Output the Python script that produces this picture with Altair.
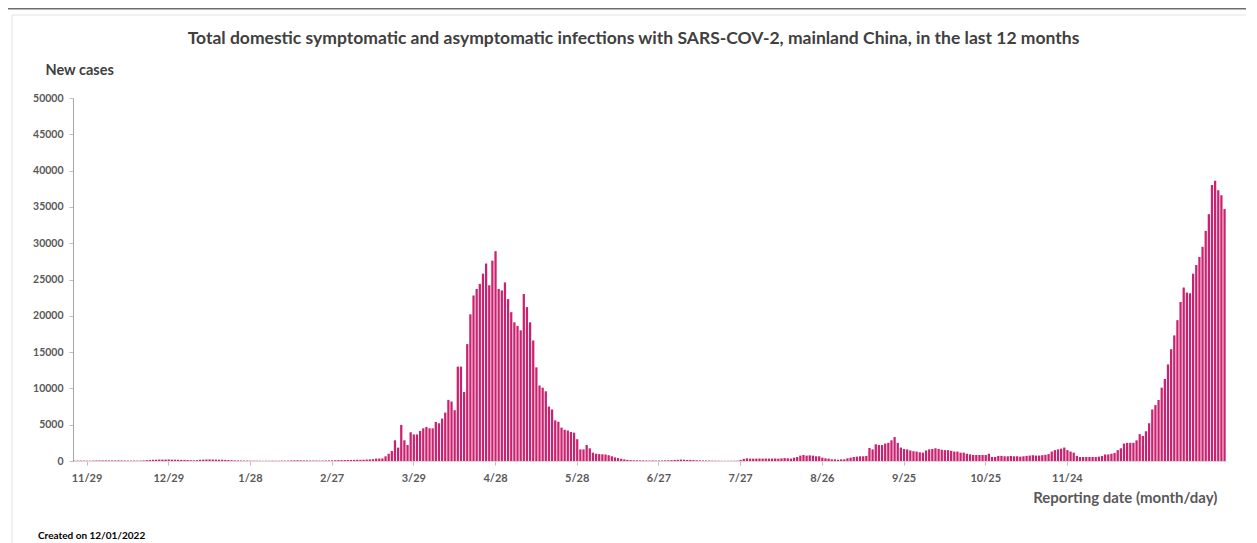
import altair as alt
import pandas as pd

# Daily new cases (domestic symptomatic + asymptomatic)
nov21 = [50, 55]
dec21 = [60, 55, 50, 45, 60, 70, 75, 80, 85, 80, 75, 70, 80, 75, 65, 60, 55, 60, 55, 60,
         80, 120, 150, 170, 180, 200, 190, 200, 210, 190, 180]
jan22 = [170, 160, 150, 130, 110, 100, 120, 160, 190, 210, 220, 200, 190, 180, 170, 150,
         130, 110, 90, 80, 70, 60, 60, 50, 50, 40, 40, 30, 40, 40, 50]
feb22 = [40, 40, 50, 50, 60, 80, 90, 100, 90, 80, 80, 70, 60, 60, 50, 60, 70, 80, 90, 100,
         120, 120, 130, 140, 150, 160, 170, 170]
mar22 = [180, 200, 220, 250, 330, 330, 350, 640, 1000, 1380, 2850, 1840, 4970, 2850, 2200,
         3960, 3660, 3660, 4140, 4500, 4690, 4500, 4500, 5380, 5200, 5840, 6670, 8420, 8190,
         7000, 13000]
apr22 = [13000, 9500, 16100, 20200, 22800, 23700, 24400, 25800, 27200, 24200, 27600, 28900,
         23700, 23500, 24600, 22300, 20500, 19100, 18600, 18000, 23000, 21200, 19100, 16600,
         12900, 10400, 10100, 9600, 7500, 7100]
may22 = [5600, 5400, 4600, 4300, 4200, 4000, 3900, 3000, 1600, 1600, 2200, 1750, 1150, 1000,
         950, 920, 900, 800, 650, 500, 400, 300, 220, 150, 120, 100, 100, 90, 80, 70, 60]
jun22 = [80, 60, 70, 80, 90, 100, 120, 150, 170, 200, 180, 150, 160, 130, 100, 90, 80, 70,
         60, 50, 40, 40, 30, 30, 30, 30, 40, 50, 150, 300]
jul22 = [370, 330, 320, 330, 340, 330, 340, 330, 330, 340, 320, 360, 400, 370, 330, 460, 550,
         740, 830, 740, 780, 740, 650, 650, 460, 370, 320, 230, 230, 180, 230]
aug22 = [230, 370, 460, 550, 600, 650, 650, 700, 1800, 1600, 2300, 2200, 2200, 2400, 2500,
         2850, 3300, 2500, 1850, 1650, 1600, 1450, 1350, 1300, 1200, 1150, 1450, 1600, 1650,
         1750, 1650]
sep22 = [1550, 1500, 1500, 1400, 1300, 1300, 1150, 1150, 1000, 920, 830, 830, 830, 830, 830,
         1000, 550, 550, 700, 700, 650, 650, 700, 650, 650, 600, 650, 700, 750, 800]
oct22 = [750, 750, 800, 850, 950, 1300, 1500, 1600, 1700, 1850, 1500, 1300, 1150, 700, 550,
         550, 550, 550, 550, 550, 600, 700, 900, 900, 1000, 1100, 1500, 1750, 2400, 2500, 2500]
nov22 = [2500, 2850, 3700, 3450, 4100, 5200, 7100, 7700, 8400, 10100, 11300, 13300, 15400,
         17300, 19400, 21900, 23900, 23200, 23100, 25800, 27000, 28100, 29500, 31700, 34000,
         38000, 38600, 37300, 36600, 34700]

# x tick labels as printed in the reference (they sit every 26 bars there)
tick_labels = ["11/29", "12/29", "1/28", "2/27", "3/29", "4/28", "5/28", "6/27", "7/27",
               "8/26", "9/25", "10/25", "11/24"]
tick_bar_index = [4, 30, 56, 82, 108, 134, 160, 186, 212, 238, 264, 290, 316]
y_ticks = [0, 5000, 10000, 15000, 20000, 25000, 30000, 35000, 40000, 45000, 50000]

title_text = ("Total domestic symptomatic and asymptomatic infections with SARS-COV-2, "
              "mainland China, in the last 12 months")
created_text = "Created on 12/01/2022"

values = (nov21 + dec21 + jan22 + feb22 + mar22 + apr22 + may22 + jun22 + jul22 + aug22
          + sep22 + oct22 + nov22)
dates = pd.date_range("2021-11-29", "2022-11-30", freq="D").strftime("%Y-%m-%d").tolist()
df = pd.DataFrame({"date": dates, "cases": values})

tick_values = [dates[i] for i in tick_bar_index]
label_expr = "[{}][indexof([{}], datum.value)]".format(
    ",".join("'%s'" % t for t in tick_labels),
    ",".join("'%s'" % v for v in tick_values),
)

FONT = "Lato"
LABEL_COLOR = "#595959"

bars = alt.Chart(df).mark_bar(color="#CB2270").encode(
    x=alt.X(
        "date:O",
        scale=alt.Scale(paddingInner=0.28, paddingOuter=0.1),
        axis=alt.Axis(
            values=tick_values,
            labelExpr=label_expr,
            labelAngle=0,
            labelFont=FONT, labelFontSize=11, labelFontWeight="bold", labelColor=LABEL_COLOR,
            labelPadding=7,
            tickSize=4, tickColor="#BFBFBF",
            domainColor="#D9D9D9", domainWidth=1,
            title="Reporting date (month/day)",
            titleFont=FONT, titleFontSize=15, titleFontWeight="bold", titleColor=LABEL_COLOR,
            titleAlign="right", titleAnchor="end", titleX=1144, titleY=36,
            titleBaseline="middle",
        ),
    ),
    y=alt.Y(
        "cases:Q",
        scale=alt.Scale(domain=[0, 50000], nice=False),
        axis=alt.Axis(
            values=y_ticks,
            format="d",
            grid=False,
            labelFont=FONT, labelFontSize=10.5, labelFontWeight="bold", labelColor=LABEL_COLOR,
            labelPadding=6,
            tickSize=4, tickColor="#BFBFBF",
            domainColor="#A6A6A6", domainWidth=1,
            title="New cases",
            titleFont=FONT, titleFontSize=14.5, titleFontWeight="bold", titleColor="#404040",
            titleAngle=0, titleAlign="left", titleBaseline="middle",
            titleX=-28, titleY=-28,
        ),
    ),
)

note = alt.Chart(pd.DataFrame({"t": [created_text]})).mark_text(
    align="left", baseline="middle", font=FONT, fontSize=10, fontWeight="bold", color="#000000"
).encode(text="t:N", x=alt.value(-35), y=alt.value(438))

# page decorations: thick grey rule at the very top and a light frame
top_rule = alt.Chart(pd.DataFrame({"k": [0]})).mark_rule(
    color="#6E6E6E", strokeWidth=3
).encode(x=alt.value(-65), x2=alt.value(1173), y=alt.value(-90))
frame_top = alt.Chart(pd.DataFrame({"k": [0]})).mark_rule(
    color="#E3E3E3", strokeWidth=1
).encode(x=alt.value(-61), x2=alt.value(1173), y=alt.value(-83))
frame_left = alt.Chart(pd.DataFrame({"k": [0]})).mark_rule(
    color="#E3E3E3", strokeWidth=1
).encode(x=alt.value(-61), y=alt.value(-83), y2=alt.value(445))

chart = alt.layer(top_rule, frame_top, frame_left, bars, note).properties(
    width=1153,
    height=363,
    title=alt.TitleParams(
        text=title_text, font=FONT, fontSize=17.5, fontWeight="bold", color="#404040",
        anchor="middle", offset=0, dy=41, dx=-16,
    ),
    padding={"left": 65, "top": 90, "right": 20, "bottom": 82},
    autosize=alt.AutoSizeParams(type="none"),
).configure_view(stroke=None)

chart.save("out.html", embed_options={"renderer": "svg", "actions": False})
